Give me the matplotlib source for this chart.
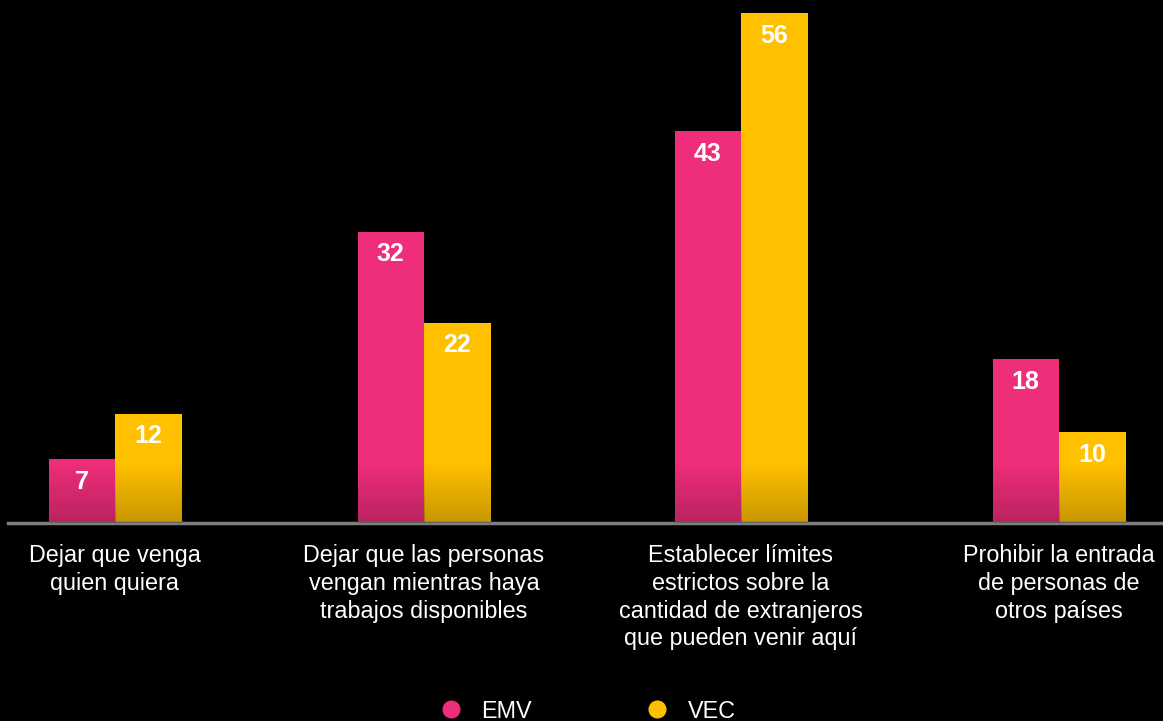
import numpy as np
import matplotlib.pyplot as plt
from matplotlib.lines import Line2D
from matplotlib.font_manager import FontProperties

categories = [
    "Dejar que venga\nquien quiera",
    "Dejar que las personas\nvengan mientras haya\ntrabajos disponibles",
    "Establecer límites\nestrictos sobre la\ncantidad de extranjeros\nque pueden venir aquí",
    "Prohibir la entrada\nde personas de\notros países",
]
emv = [7, 32, 43, 18]
vec = [12, 22, 56, 10]

PINK = "#EE2D7B"
YELLOW = "#FFC000"

label_font = FontProperties(family=["Liberation Sans", "DejaVu Sans"],
                            stretch="normal", size=16.8)

fig = plt.figure(figsize=(11.63, 7.21), dpi=100, facecolor="black")
ax = fig.add_axes([8 / 1163, 198 / 721, 1155 / 1163, 523 / 721])
ax.set_facecolor("black")

# group centres along the axis (axis runs 8..1163)
x = np.array([115, 424, 741, 1059])
w = 66.5

bars_emv = ax.bar(x - w / 2, emv, w, color=PINK, label="EMV", zorder=2)
bars_vec = ax.bar(x + w / 2, vec, w, color=YELLOW, label="VEC", zorder=2)

# darker band near the base of every bar
grad = np.zeros((64, 2, 4))
grad[..., 3] = np.linspace(0.22, 0.0, 64)[:, None]
for b in list(bars_emv) + list(bars_vec):
    x0 = b.get_x()
    im = ax.imshow(grad, extent=[x0, x0 + b.get_width(), 0, 6.6],
                   origin="lower", aspect="auto", zorder=3,
                   interpolation="bilinear")
    im.set_clip_path(b)

for bars, vals in ((bars_emv, emv), (bars_vec, vec)):
    for b, v in zip(bars, vals):
        ax.text(b.get_x() + b.get_width() / 2, v - 2.5, str(v),
                ha="center", va="center", color="white", fontsize=18,
                fontweight="bold", family=["Liberation Sans", "DejaVu Sans"],
                zorder=4)

ax.set_xlim(8, 1163)
ax.set_ylim(0, 57.43)
for s in ["top", "right", "left"]:
    ax.spines[s].set_visible(False)
ax.spines["bottom"].set_color("#7f7f7f")
ax.spines["bottom"].set_linewidth(2.5)
ax.set_yticks([])
ax.set_xticks(x)
ax.set_xticklabels(categories, color="white", fontproperties=label_font,
                   linespacing=1.27)
ax.tick_params(axis="x", length=0, pad=15)

handles = [Line2D([], [], marker="o", ls="", color=PINK, markersize=12),
           Line2D([], [], marker="o", ls="", color=YELLOW, markersize=12)]
leg = fig.legend(handles, ["EMV", "VEC"], loc="center", bbox_to_anchor=(0.5, 10 / 721),
                 ncol=2, frameon=False, columnspacing=4.4, handletextpad=0.3,
                 prop=label_font)
for t in leg.get_texts():
    t.set_color("white")

fig.savefig("out.png", dpi=100, facecolor="black")
